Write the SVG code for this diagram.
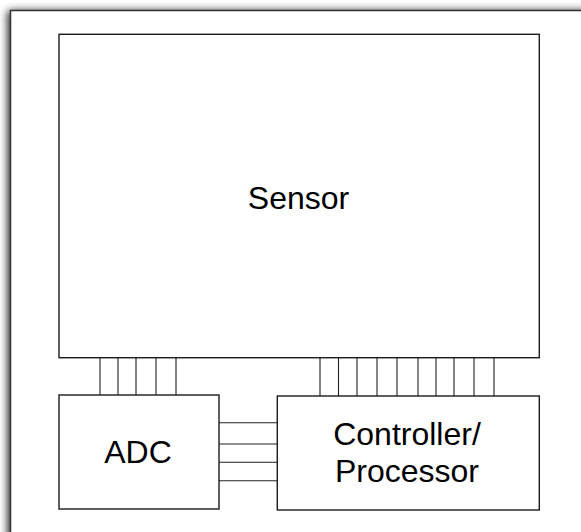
<svg xmlns="http://www.w3.org/2000/svg" width="581" height="532" viewBox="0 0 581 532">
  <defs>
    <filter id="shadow" x="-10%" y="-10%" width="130%" height="130%">
      <feGaussianBlur in="SourceAlpha" stdDeviation="4"/>
      <feOffset dx="-2" dy="1" result="b"/>
      <feComponentTransfer><feFuncA type="linear" slope="0.9"/></feComponentTransfer>
      <feMerge><feMergeNode/><feMergeNode in="SourceGraphic"/></feMerge>
    </filter>
  </defs>
  <style>
    .box { fill: #fff; stroke: #1a1a1a; stroke-width: 1.4; }
    .wire { stroke: #222; stroke-width: 1.1; fill: none; }
    .label { font-family: "Liberation Sans", Arial, Helvetica, sans-serif; font-size: 32px; fill: #000; text-anchor: middle; }
  </style>
  <rect x="0" y="0" width="581" height="532" fill="#fff"/>
  <g id="frame">
    <rect x="10.5" y="10.5" width="600" height="560" fill="#fff" stroke="#333" stroke-width="1.5" filter="url(#shadow)"/>
  </g>
  <g id="connectors">
    <path class="wire" d="M100,358 V395 M118,358 V395 M136,358 V395 M156,358 V395 M176,358 V395"/>
    <path class="wire" d="M320,358 V396 M338.5,358 V396 M357,358 V396 M377,358 V396 M397,358 V396 M418,358 V396 M436,358 V396 M454,358 V396 M474,358 V396 M494,358 V396"/>
    <path class="wire" d="M219,422.7 H277.3 M219,444 H277.3 M219,462.3 H277.3 M219,480.7 H277.3"/>
  </g>
  <g id="sensor">
    <rect class="box" x="59" y="34.3" width="480.3" height="323.4"/>
    <text class="label" x="298.5" y="209">Sensor</text>
  </g>
  <g id="adc">
    <rect class="box" x="59" y="395" width="160" height="114"/>
    <text class="label" x="138" y="462.7">ADC</text>
  </g>
  <g id="controller">
    <rect class="box" x="277.3" y="396" width="262" height="114"/>
    <text class="label" x="407" y="445">Controller/</text>
    <text class="label" x="407" y="482">Processor</text>
  </g>
</svg>
